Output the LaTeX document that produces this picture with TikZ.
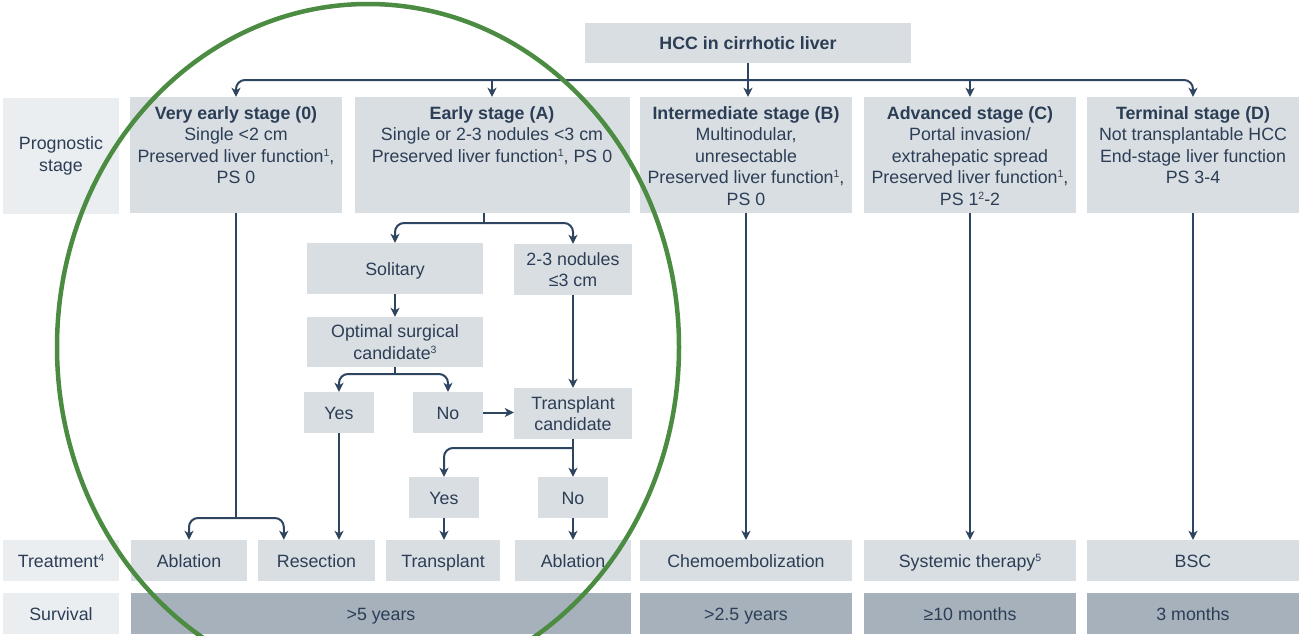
\documentclass[tikz,border=0pt]{standalone}
\usepackage{fontspec}
\setmainfont{Liberation Sans}
\usetikzlibrary{arrows.meta}
\definecolor{ink}{HTML}{2C3E55}
\definecolor{wirec}{HTML}{2E4561}
\definecolor{boxfill}{HTML}{D9DEE3}
\definecolor{labfill}{HTML}{EBEEF1}
\definecolor{survfill}{HTML}{A6B1BC}
\definecolor{ring}{HTML}{4C8C42}
\newcommand\fs{\fontsize{17.8pt}{21.5pt}\selectfont}
\newcommand\stk[1]{\begin{tabular}[t]{@{}c@{}}#1\end{tabular}}
% small footnote marks
\newcommand\fn[1]{\raisebox{6pt}{\fontsize{10.5pt}{10.5pt}\selectfont #1}}

\begin{document}
\begin{tikzpicture}[x=1pt,y=-1pt,
  box/.style={fill=boxfill, draw=none, inner sep=0pt, text=ink, font=\fs},
  lab/.style={box, fill=labfill},
  surv/.style={box, fill=survfill},
  one/.style={text height=13pt, text depth=0pt},
  txt/.style={anchor=base, inner sep=0pt, text=ink, font=\fs},
  wire/.style={draw=wirec, line width=2pt},
  arr/.style={wire, -{Stealth[length=9pt,width=9pt,inset=2.5pt]}},
  elbow/.style={rounded corners=9pt}]

\useasboundingbox (0,0) rectangle (1301,635);

% top box
\node[box, one, font=\fs\bfseries, minimum width=326pt, minimum height=40pt] (hcc) at (748,43) {HCC in cirrhotic liver};

% prognostic stage row
\node[lab, align=center, minimum width=116pt, minimum height=116pt] (labP) at (61,156) {Prognostic\\stage};
\node[box, minimum width=212pt, minimum height=116pt] (s0) at (236,155) {};
\node[box, minimum width=275pt, minimum height=116pt] (sA) at (492,155) {};
\node[box, minimum width=212pt, minimum height=116pt] (sB) at (746,155) {};
\node[box, minimum width=212pt, minimum height=116pt] (sC) at (970,155) {};
\node[box, minimum width=212pt, minimum height=116pt] (sD) at (1193,155) {};

\node[txt] (t0) at (236,119) {\stk{\textbf{Very early stage (0)}\\Single <2 cm\\Preserved liver function\fn{1},\\PS 0}};
\node[txt] (tA) at (492,119) {\stk{\textbf{Early stage (A)}\\Single or 2-3 nodules <3 cm\\Preserved liver function\fn{1}, PS 0}};
\node[txt] (tB) at (746,119) {\stk{\textbf{Intermediate stage (B)}\\Multinodular,\\unresectable\\Preserved liver function\fn{1},\\PS 0}};
\node[txt] (tC) at (970,119) {\stk{\textbf{Advanced stage (C)}\\Portal invasion/\\extrahepatic spread\\Preserved liver function\fn{1},\\PS 1\fn{2}-2}};
\node[txt] (tD) at (1193,119) {\stk{\textbf{Terminal stage (D)}\\Not transplantable HCC\\End-stage liver function\\PS 3-4}};

% early stage decision boxes
\node[box, one, minimum width=176pt, minimum height=51pt] (sol) at (395,268.5) {Solitary};
\node[box, align=center, minimum width=118pt, minimum height=51pt] (nod) at (573,269.5) {2-3 nodules\\≤3 cm};
\node[box, align=center, minimum width=176pt, minimum height=50pt] (opt) at (395,342) {Optimal surgical\\candidate\fn{3}};
\node[box, one, minimum width=70pt, minimum height=41pt] (yes1) at (339,412.5) {Yes};
\node[box, one, minimum width=70pt, minimum height=41pt] (no1) at (448,412.5) {No};
\node[box, align=center, minimum width=118pt, minimum height=51pt] (tc) at (573,413.5) {Transplant\\candidate};
\node[box, one, minimum width=70pt, minimum height=41pt] (yes2) at (444,497.5) {Yes};
\node[box, one, minimum width=70pt, minimum height=41pt] (no2) at (573,497.5) {No};

% treatment row
\node[lab, one, minimum width=116pt, minimum height=41pt] (labT) at (61,560.5) {Treatment\fn{4}};
\node[box, one, minimum width=116pt, minimum height=41pt] (abl1) at (189,560.5) {Ablation};
\node[box, one, minimum width=117pt, minimum height=41pt] (res) at (316.5,560.5) {Resection};
\node[box, one, minimum width=114pt, minimum height=41pt] (trp) at (443,560.5) {Transplant};
\node[box, one, minimum width=116pt, minimum height=41pt] (abl2) at (573,560.5) {Ablation};
\node[box, one, minimum width=212pt, minimum height=41pt] (chemo) at (746,560.5) {Chemoembolization};
\node[box, one, minimum width=212pt, minimum height=41pt] (sys) at (970,560.5) {Systemic therapy\fn{5}};
\node[box, one, minimum width=212pt, minimum height=41pt] (bsc) at (1193,560.5) {BSC};

% survival row
\node[lab, one, minimum width=116pt, minimum height=41pt] (labS) at (61,613.5) {Survival};
\node[surv, one, minimum width=500pt, minimum height=41pt] (sv1) at (381,613.5) {>5 years};
\node[surv, one, minimum width=212pt, minimum height=41pt] (sv2) at (746,613.5) {>2.5 years};
\node[surv, one, minimum width=212pt, minimum height=41pt] (sv3) at (970,613.5) {≥10 months};
\node[surv, one, minimum width=212pt, minimum height=41pt] (sv4) at (1193,613.5) {3 months};

% branch levels
\coordinate (busY) at (0,80);
\coordinate (splitV) at (0,518);
\coordinate (splitA) at (0,223);
\coordinate (splitO) at (0,374);
\coordinate (splitT) at (0,448);
\coordinate (aOut) at ([xshift=-8pt]sA.south);
\coordinate (resIn) at ([xshift=26pt]res.north west);

% stage distribution bus
\draw[arr] (hcc.south) -- (hcc.south |- sB.north);
\draw[arr, elbow] (hcc.south |- busY) -| (s0.north);
\draw[arr, elbow] (hcc.south |- busY) -| (sD.north);
\draw[arr] (sA.north |- busY) -- (sA.north);
\draw[arr] (sC.north |- busY) -- (sC.north);

% very early stage
\draw[wire] (s0.south) -- (s0.south |- splitV);
\draw[arr, elbow] (s0.south |- splitV) -| (abl1.north);
\draw[arr, elbow] (s0.south |- splitV) -| (resIn);

% early stage
\draw[wire] (aOut) -- (aOut |- splitA);
\draw[arr, elbow] (aOut |- splitA) -| (sol.north);
\draw[arr, elbow] (aOut |- splitA) -| (nod.north);
\draw[arr] (sol.south) -- (opt.north);
\draw[wire] (opt.south) -- (opt.south |- splitO);
\draw[arr, elbow] (opt.south |- splitO) -| (yes1.north);
\draw[arr, elbow] (opt.south |- splitO) -| (no1.north);
\draw[arr] (yes1.south) -- (yes1.south |- res.north);
\draw[arr] (no1.east) -- (no1.east -| tc.west);
\draw[arr] (nod.south) -- (tc.north);
\draw[arr] (tc.south) -- (no2.north);
\draw[arr, elbow] (tc.south |- splitT) -| (yes2.north);
\draw[arr] (yes2.south) -- (yes2.south |- trp.north);
\draw[arr] (no2.south) -- (abl2.north);

% later stages
\draw[arr] (sB.south) -- (chemo.north);
\draw[arr] (sC.south) -- (sys.north);
\draw[arr] (sD.south) -- (bsc.north);

% highlight ring
\draw[ring, line width=4.5pt] (368,347) ellipse [x radius=311pt, y radius=343pt];
\end{tikzpicture}
\end{document}
